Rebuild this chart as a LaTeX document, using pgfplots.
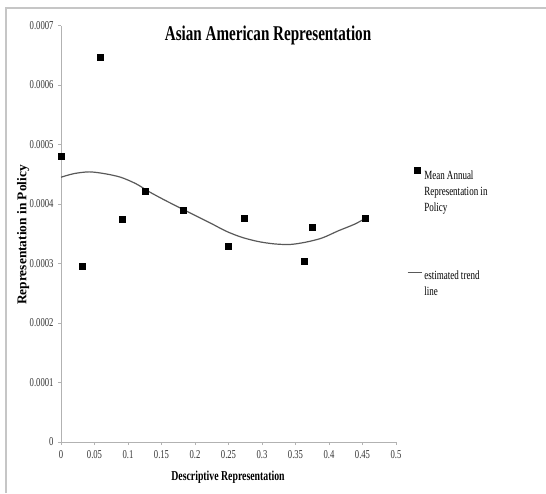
\documentclass[border=0pt]{standalone}
\usepackage{fontspec}
\setmainfont{Liberation Serif}[FakeStretch=0.72]
\newfontfamily\ylabfont{Liberation Serif}
\usepackage{pgfplots}
\pgfplotsset{compat=1.18}
\pgfplotsset{
  marklegend/.style={legend image code/.code={\path (0pt,-22pt) (14pt,22pt); \draw[##1] plot coordinates {(10pt,22pt)};}},
  linelegend/.style={legend image code/.code={\path (0pt,-13pt) (14pt,13pt); \draw[##1] (0pt,12pt) -- (14pt,12pt);}},
}
\begin{document}
\begin{tikzpicture}
\path[use as bounding box] (0pt,0pt) rectangle (546pt,493pt);
\draw[gray!45, line width=1.5pt] (6pt,0pt) -- (6pt,485pt) -- (546pt,485pt);
\begin{axis}[
  at={(61pt,51pt)}, anchor=south west, scale only axis,
  width=335pt, height=416.5pt,
  xmin=0, xmax=0.5, ymin=0, ymax=0.0007,
  axis lines=left,
  axis line style={gray!60, -, line width=0.8pt},
  tick style={gray!60, line width=0.6pt},
  tick align=outside, major tick length=3pt,
  xtick={0,0.05,0.1,0.15,0.2,0.25,0.3,0.35,0.4,0.45,0.5},
  xticklabels={0,0.05,0.1,0.15,0.2,0.25,0.3,0.35,0.4,0.45,0.5},
  ytick={0,0.0001,0.0002,0.0003,0.0004,0.0005,0.0006,0.0007},
  yticklabels={0,0.0001,0.0002,0.0003,0.0004,0.0005,0.0006,0.0007},
  scaled y ticks=false,
  ticklabel style={font=\fontsize{12}{14}\selectfont, text=black!80},
  xticklabel style={yshift=-2pt},
  yticklabel style={xshift=-1pt},
  title={Asian American Representation},
  title style={at={(0.618,0.962)}, anchor=center, font=\bfseries\fontsize{21}{24}\selectfont},
  xlabel={Descriptive Representation},
  xlabel style={at={(0.4985,-0.085)}, anchor=center, font=\bfseries\fontsize{13.6}{16}\selectfont},
  ylabel={Representation in Policy},
  ylabel style={at={(-0.113,0.497)}, anchor=center, font=\ylabfont\bfseries\fontsize{13.4}{16}\selectfont},
  legend style={at={(1.033,0.660)}, anchor=north west, draw=none, fill=none,
    inner sep=0pt, outer sep=0pt, row sep=54pt,
    font=\fontsize{12.5}{16}\selectfont, cells={align=left, anchor=west}},
  legend cell align=left,
]
\addplot[only marks, mark=square*, mark size=3pt, black, marklegend]
  coordinates {
  (0,0.000480) (0.0323,0.000296) (0.0588,0.000646) (0.0909,0.000374)
  (0.125,0.000421) (0.1818,0.000389) (0.25,0.000329) (0.2727,0.000376)
  (0.3636,0.000304) (0.375,0.000361) (0.4545,0.000376)};
\addlegendentry{Mean Annual\\Representation in\\Policy}
\addplot[smooth, black!65, line width=1.2pt, linelegend]
  coordinates {
  (0,0.000445) (0.019,0.000451) (0.042,0.000454) (0.065,0.000451)
  (0.089,0.000445) (0.112,0.000434) (0.131,0.000421) (0.154,0.000407)
  (0.182,0.000391) (0.205,0.000378) (0.223,0.000368) (0.247,0.000354)
  (0.270,0.000344) (0.294,0.000337) (0.318,0.000333) (0.342,0.000332)
  (0.366,0.000336) (0.390,0.000343) (0.414,0.000355) (0.438,0.000366)
  (0.4545,0.000376)};
\addlegendentry{estimated trend\\line}
\end{axis}
\end{tikzpicture}
\end{document}
